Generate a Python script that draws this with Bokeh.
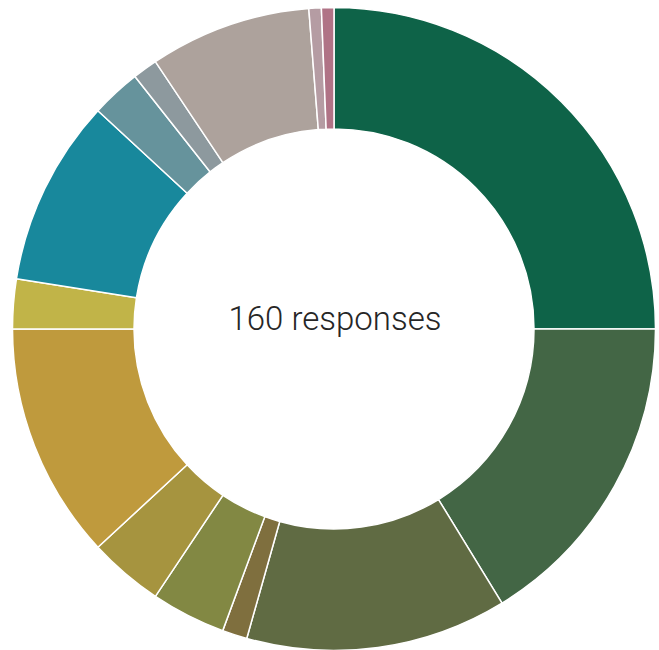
import math
from bokeh.plotting import figure
from bokeh.models import ColumnDataSource, Range1d
from bokeh.core.properties import value
from bokeh.embed import file_html
from bokeh.resources import INLINE

# Data (counts, 160 responses in total)
categories = ["A", "B", "C", "D", "E", "F", "G", "H", "I", "J", "K", "L", "M", "N"]
counts = [40, 26, 21, 2, 6, 6, 19, 4, 15, 4, 2, 13, 1, 1]
colors = ["#0e6348", "#436645", "#606b43", "#7f6f3e", "#828843", "#a6943f",
          "#bf9a3d", "#c1b448", "#18889c", "#66939c", "#8d999e", "#ada29c",
          "#b59ca3", "#b07386"]
center_label = "160 responses"

total = sum(counts)
starts, ends = [], []
cum = 0
for c in counts:
    starts.append(math.pi / 2 - 2 * math.pi * cum / total)
    cum += c
    ends.append(math.pi / 2 - 2 * math.pi * cum / total)

src = ColumnDataSource(dict(cat=categories, count=counts, color=colors,
                            start=starts, end=ends))

W, H = 659, 650
cx, cy = 333.5, 328.5
p = figure(width=W, height=H, output_backend="svg", toolbar_location=None,
           x_range=Range1d(-cx, W - cx), y_range=Range1d(-(H - cy), cy),
           min_border=0, outline_line_color=None)
p.axis.visible = False
p.grid.visible = False
p.background_fill_color = "white"
p.border_fill_color = "white"

p.annular_wedge(x=0, y=0, inner_radius=200, outer_radius=321.5,
                start_angle="start", end_angle="end", direction="clock",
                fill_color="color", line_color="white", line_width=1.5,
                source=src)

p.text(x=[1], y=[11], text=[center_label], text_align="center",
       text_baseline="middle", text_font=value("'Roboto Light', Roboto"),
       text_font_size="33px", text_color="#262626")

open("out.html", "w").write(file_html(p, INLINE))
